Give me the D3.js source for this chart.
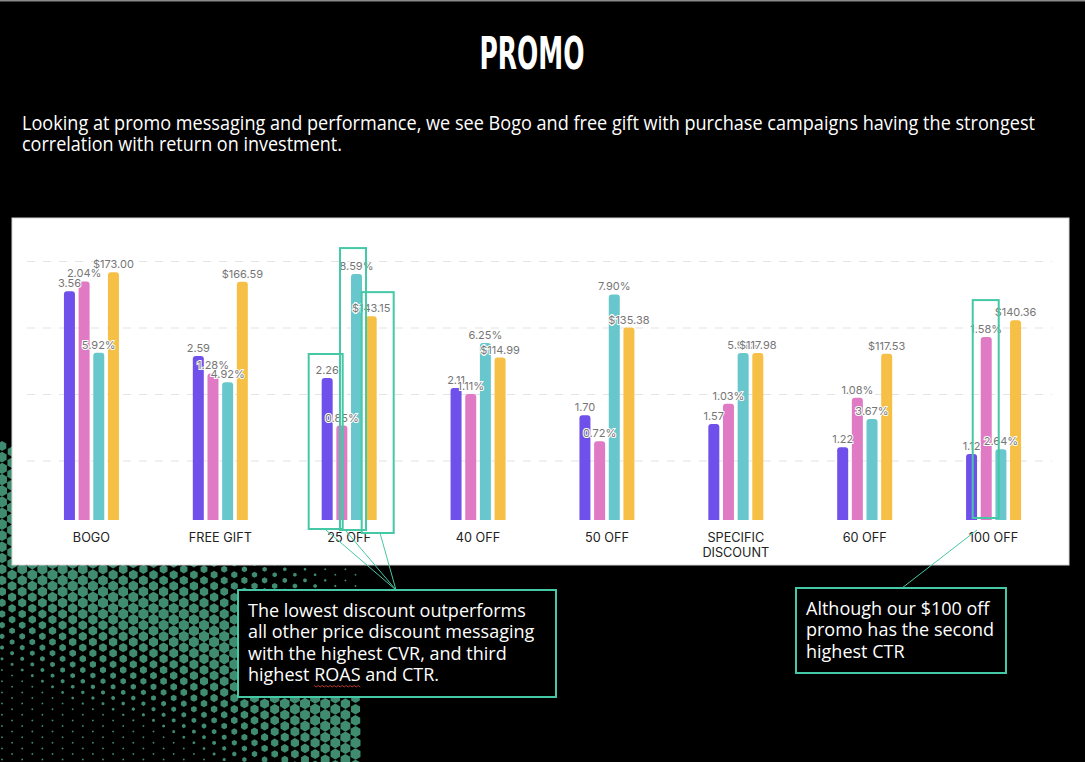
<!DOCTYPE html>
<html>
<head>
<meta charset="utf-8">
<script src="https://cdn.jsdelivr.net/npm/d3@7/dist/d3.min.js"></script>
<style>
  body { margin: 0; background: #000; }
</style>
</head>
<body>
<div id="chart"></div>
<script>
// promo categories and the four metrics
var categories = ["BOGO", "FREE GIFT", "25 OFF", "40 OFF", "50 OFF", "SPECIFIC DISCOUNT", "60 OFF", "100 OFF"];
var seriesNames = ["ROAS", "CTR", "CVR", "AOV"];
var roas = [3.56, 2.59, 2.26, 2.11, 1.70, 1.57, 1.22, 1.12];
var ctr = [2.04, 1.28, 0.85, 1.11, 0.72, 1.03, 1.08, 1.58];
var cvr = [5.92, 4.92, 8.59, 6.25, 7.90, 5.91, 3.67, 2.64];
var aov = [173.00, 166.59, 143.15, 114.99, 135.38, 117.98, 117.53, 140.36];
var gridTicks = [1, 2, 3, 4];

var titleText = "PROMO";
var introLines = [
  "Looking at promo messaging and performance, we see Bogo and free gift with purchase campaigns having the strongest",
  "correlation with return on investment."
];
var noteLeft = [
  "The lowest discount outperforms",
  "all other price discount messaging",
  "with the highest CVR, and third",
  "highest ROAS and CTR."
];
var noteRight = [
  "Although our $100 off",
  "promo has the second",
  "highest CTR"
];

var W = 1085, H = 762;
var accent = "#45c8a5";

var svg = d3.select("#chart")
  .append("svg")
  .attr("width", W)
  .attr("height", H)
  .style("display", "block");

svg.append("rect").attr("width", W).attr("height", H).attr("fill", "#000");
svg.append("line").attr("x1", 0).attr("x2", W).attr("y1", 0.5).attr("y2", 0.5)
  .attr("stroke", "#8a8a8a").attr("stroke-width", 2);

// hex halftone decoration, bottom left
var bandPts = [[0, 480], [30, 560], [100, 598], [180, 622], [260, 662], [330, 720], [380, 775]];
function distToBand(px, py) {
  var best = 1e9;
  for (var i = 0; i < bandPts.length - 1; i++) {
    var a = bandPts[i], b = bandPts[i + 1];
    var dx = b[0] - a[0], dy = b[1] - a[1];
    var t = ((px - a[0]) * dx + (py - a[1]) * dy) / (dx * dx + dy * dy);
    t = Math.max(0, Math.min(1, t));
    var qx = a[0] + t * dx - px, qy = a[1] + t * dy - py;
    best = Math.min(best, Math.sqrt(qx * qx + qy * qy));
  }
  return best;
}
function hexPath(cx, cy, r) {
  var p = d3.path();
  for (var k = 0; k < 6; k++) {
    var ang = Math.PI / 3 * k - Math.PI / 2;
    var px = cx + r * Math.cos(ang), py = cy + r * Math.sin(ang);
    if (k === 0) p.moveTo(px, py); else p.lineTo(px, py);
  }
  p.closePath();
  return p.toString();
}
var hexes = [];
for (var i = 0; i < 37; i++) {
  var hx = 2 + i * 10.1;
  for (var j = 0; j < 30; j++) {
    var hy = 446 + j * 11.2 + (i % 2) * 5.6;
    if (hy > H + 6 || hx > 364) continue;
    var d = distToBand(hx, hy);
    var f = Math.max(0, 1 - Math.pow(d / 110, 1.5));
    var r = 1 + 4.8 * f;
    hexes.push({ x: hx, y: hy, r: r });
  }
}
svg.append("g")
  .selectAll("path")
  .data(hexes)
  .enter()
  .append("path")
  .attr("d", function (d) { return hexPath(d.x, d.y, d.r); })
  .attr("fill", "#3f8c70");

// title and intro text
svg.append("text")
  .attr("x", 532).attr("y", 69)
  .attr("text-anchor", "middle")
  .attr("textLength", 105).attr("lengthAdjust", "spacingAndGlyphs")
  .style("font-family", "'Liberation Sans Narrow', 'DejaVu Sans Condensed', sans-serif")
  .style("font-weight", "bold")
  .style("font-size", "44px")
  .attr("fill", "#fff")
  .text(titleText);

var introLen = [1013, 320];
svg.append("g").selectAll("text")
  .data(introLines)
  .enter()
  .append("text")
  .attr("x", 22)
  .attr("y", function (d, i) { return 130 + i * 21; })
  .attr("textLength", function (d, i) { return introLen[i]; })
  .attr("lengthAdjust", "spacingAndGlyphs")
  .style("font-family", "'Open Sans', sans-serif")
  .style("font-size", "20px")
  .attr("fill", "#fff")
  .text(function (d) { return d; });

// chart panel
svg.append("rect")
  .attr("x", 12).attr("y", 218).attr("width", 1057).attr("height", 347)
  .attr("fill", "#fff").attr("stroke", "#d6d6d6").attr("stroke-width", 1);

var x0 = d3.scaleBand().domain(categories).range([27, 1058]);
var x1 = d3.scaleBand().domain(seriesNames).range([0, 55]).paddingInner(0.25);
var groupOff = (x0.bandwidth() - 55) / 2;

var yScales = {
  ROAS: d3.scaleLinear().domain([0.13, 4.0]).range([520, 262]),
  CTR: d3.scaleLinear().domain([0.07, 2.2]).range([520, 262]),
  CVR: d3.scaleLinear().domain([0.24, 9.0]).range([520, 262]),
  AOV: d3.scaleLinear().domain([4.4, 180]).range([520, 262])
};
var gridY = d3.scaleLinear().domain([0, 4]).range([527, 261]);

var colors = { ROAS: "#7050ea", CTR: "#e07ac4", CVR: "#67c7cc", AOV: "#f6bf45" };
var fmt = d3.format(".2f");
var labelFmt = {
  ROAS: function (v) { return fmt(v); },
  CTR: function (v) { return fmt(v) + "%"; },
  CVR: function (v) { return fmt(v) + "%"; },
  AOV: function (v) { return "$" + fmt(v); }
};
var seriesValues = { ROAS: roas, CTR: ctr, CVR: cvr, AOV: aov };

// dashed gridlines
svg.append("g")
  .attr("transform", "translate(27,0)")
  .call(d3.axisLeft(gridY).tickValues(gridTicks).tickSize(-1025).tickFormat(""))
  .call(function (g) { g.select(".domain").remove(); })
  .call(function (g) {
    g.selectAll(".tick line")
      .attr("stroke", "#e3e3e3")
      .attr("stroke-dasharray", "8,8");
  });

// flatten into bar records
var bars = [];
categories.forEach(function (c, ci) {
  seriesNames.forEach(function (s) {
    bars.push({ cat: c, series: s, value: seriesValues[s][ci] });
  });
});

function barX(d) { return x0(d.cat) + groupOff + x1(d.series); }
function barTop(d) { return yScales[d.series](d.value); }

function roundedTop(x, y, w, h, r) {
  return "M" + x + "," + (y + h) +
    "V" + (y + r) +
    "Q" + x + "," + y + " " + (x + r) + "," + y +
    "H" + (x + w - r) +
    "Q" + (x + w) + "," + y + " " + (x + w) + "," + (y + r) +
    "V" + (y + h) + "Z";
}

svg.append("g")
  .selectAll("path")
  .data(bars)
  .enter()
  .append("path")
  .attr("d", function (d) {
    var y = barTop(d);
    return roundedTop(barX(d), y, x1.bandwidth(), 520 - y, 3);
  })
  .attr("fill", function (d) { return colors[d.series]; });

// value labels with a white halo
svg.append("g")
  .selectAll("text")
  .data(bars)
  .enter()
  .append("text")
  .attr("x", function (d) { return barX(d) + x1.bandwidth() / 2; })
  .attr("y", function (d) { return barTop(d) - 4; })
  .attr("text-anchor", "middle")
  .style("font-family", "Inter, sans-serif")
  .style("font-size", "11px")
  .attr("fill", "#767676")
  .attr("stroke", "#fff")
  .attr("stroke-width", 2)
  .style("paint-order", "stroke")
  .text(function (d) { return labelFmt[d.series](d.value); });

// category labels
var catText = svg.append("g")
  .selectAll("text")
  .data(categories)
  .enter()
  .append("text")
  .attr("x", function (d) { return x0(d) + x0.bandwidth() / 2; })
  .attr("y", 542)
  .attr("text-anchor", "middle")
  .style("font-family", "Inter, sans-serif")
  .style("font-size", "12.7px")
  .attr("fill", "#222");
catText.each(function (d) {
  var el = d3.select(this);
  var parts = d === "SPECIFIC DISCOUNT" ? ["SPECIFIC", "DISCOUNT"] : [d];
  parts.forEach(function (p, k) {
    el.append("tspan")
      .attr("x", x0(d) + x0.bandwidth() / 2)
      .attr("dy", k === 0 ? 0 : 15)
      .text(p);
  });
});

// highlight boxes around bars
function barOf(cat, s) {
  return bars.filter(function (b) { return b.cat === cat && b.series === s; })[0];
}
var hl = [
  { b: barOf("25 OFF", "ROAS"), l: 13, r: 10, t: 24, bottom: 529 },
  { b: barOf("25 OFF", "CVR"), l: 11, r: 4, t: 26, bottom: 530 },
  { b: barOf("25 OFF", "AOV"), l: 4, r: 17, t: 24, bottom: 533 },
  { b: barOf("100 OFF", "CTR"), l: 8, r: 7, t: 37, bottom: 518 }
];
svg.append("g")
  .selectAll("rect")
  .data(hl)
  .enter()
  .append("rect")
  .attr("x", function (d) { return barX(d.b) - d.l; })
  .attr("y", function (d) { return barTop(d.b) - d.t; })
  .attr("width", function (d) { return x1.bandwidth() + d.l + d.r; })
  .attr("height", function (d) { return d.bottom - (barTop(d.b) - d.t); })
  .attr("fill", "none")
  .attr("stroke", accent)
  .attr("stroke-width", 2);

// callout connectors
var tip = [396, 590];
[[326, 530], [346, 531], [380, 533]].forEach(function (p) {
  svg.append("line")
    .attr("x1", p[0]).attr("y1", p[1]).attr("x2", tip[0]).attr("y2", tip[1])
    .attr("stroke", accent).attr("stroke-width", 1);
});
svg.append("line")
  .attr("x1", 977).attr("y1", 530).attr("x2", 902).attr("y2", 588)
  .attr("stroke", accent).attr("stroke-width", 1);

// callout boxes
function callout(x, y, w, h, lines) {
  var g = svg.append("g");
  g.append("rect")
    .attr("x", x).attr("y", y).attr("width", w).attr("height", h)
    .attr("fill", "#000").attr("stroke", accent).attr("stroke-width", 2);
  var t = g.selectAll("text")
    .data(lines)
    .enter()
    .append("text")
    .attr("x", x + 10)
    .attr("y", function (d, i) { return y + 27 + i * 21.3; })
    .style("font-family", "'Open Sans', sans-serif")
    .style("font-size", "18px")
    .attr("fill", "#fff")
    .text(function (d) { return d; });
  return t;
}
var leftText = callout(238, 590, 318, 107, noteLeft);
callout(796, 588, 210, 85, noteRight);

// red spell-check squiggle under ROAS
var last = leftText.filter(function (d, i) { return i === 3; }).node();
var idx = noteLeft[3].indexOf("ROAS");
var sx = last.getStartPositionOfChar(idx).x;
var sw = last.getSubStringLength(idx, 4);
var sq = d3.path();
var yy = 685.5;
sq.moveTo(sx, yy);
for (var k = 0; sx + k * 2 <= sx + sw; k++) {
  sq.lineTo(sx + k * 2, yy + (k % 2 ? 1.5 : 0));
}
svg.append("path").attr("d", sq.toString())
  .attr("fill", "none").attr("stroke", "#e0443a").attr("stroke-width", 0.8);
</script>
</body>
</html>
